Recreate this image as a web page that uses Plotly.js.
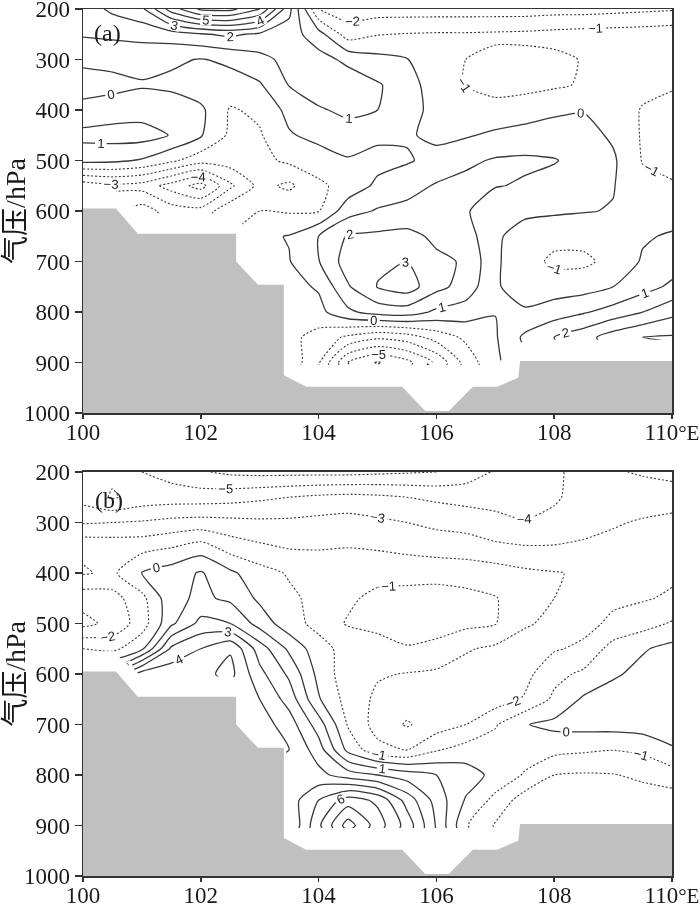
<!DOCTYPE html>
<html><head><meta charset="utf-8">
<script src="https://cdn.plot.ly/plotly-3.0.1.min.js"></script>
<style>body{margin:0;background:#fff} #chart{filter:grayscale(1)}</style></head>
<body><div id="chart" style="width:700px;height:907px"></div>
<script>
const lon = [100,100.5,101,101.5,102,102.5,103,103.5,104,104.5,105,105.5,106,106.5,107,107.5,108,108.5,109,109.5,110];
const pres = [200,250,300,350,400,450,500,550,600,650,700,750,800,850,900,950,1000];
const N = null;
// panel (a) values, rows = pressure levels, columns = longitudes
const zA = [
 [1.5,2.2,2.8,5.5,7.2,7.3,6.0,2.3,-2.0,-2.5,-2.5,-2.5,-2.5,-2.5,-2.5,-2.5,-2.4,-2.4,-2.3,-2.2,-2.1],
 [1.1,1.2,1.3,1.5,1.9,2.2,1.8,1.5,0.4,-1.5,-1.05,-0.95,-0.9,-0.9,-0.85,-0.8,-0.7,-0.6,-0.55,-0.5,-0.4],
 [0.2,0.3,0.4,0.15,-0.05,0.2,0.7,1.3,1.4,0.75,0.3,0.05,-0.8,-1.0,-1.2,-1.25,-1.2,-0.95,-0.7,-0.6,-0.6],
 [-0.4,-0.3,-0.1,-0.2,-0.6,-0.4,-0.1,1.05,1.5,1.6,1.1,0.5,-0.6,-1.05,-1.3,-1.3,-1.15,-0.9,-0.7,-0.8,-0.9],
 [0.3,0.5,0.6,0.5,0.2,-1.1,-0.8,0.3,0.9,1.2,1.0,0.5,-0.4,-0.6,-0.7,-0.5,-0.2,-0.05,-0.6,-1.05,-1.3],
 [1.3,1.4,1.4,0.95,0.1,-1.2,-1.1,-0.1,0.3,0.6,0.2,0.1,-0.2,-0.1,0.2,0.4,0.5,0.35,-0.15,-1.1,-1.4],
 [0.3,0.2,-0.1,-0.8,-1.6,-1.5,-1.3,-0.8,-0.5,-0.1,-0.3,-0.1,0.3,0.8,1.1,1.15,1.05,0.7,0.15,-1.05,-1.3],
 [-3.6,-3.2,-3.4,-4.4,-5.4,-3.2,-1.7,-2.2,-1.2,-0.6,0.2,0.6,1.1,1.3,1.05,0.9,0.7,0.45,0.05,-0.7,-0.9],
 [N,N,-1.5,-2.5,-2.6,-1.3,-1.0,-1.1,-1.05,0.6,1.1,1.3,1.2,1.1,0.4,0.2,0.15,0.05,-0.05,-0.3,-0.4],
 [N,N,N,N,N,N,-0.2,0.05,1.0,2.1,2.2,2.3,1.8,1.5,0.15,-0.4,-0.7,-0.7,-0.5,-0.1,0.1],
 [N,N,N,N,N,N,-0.1,-0.05,0.95,2.5,2.8,3.0,2.2,1.9,0.15,-0.6,-1.2,-1.2,-0.7,0.1,0.5],
 [N,N,N,N,N,N,N,-0.3,0.1,1.9,3.05,3.5,2.3,1.6,0.1,-0.4,-0.5,-0.4,0.0,0.6,1.2],
 [N,N,N,N,N,N,N,-0.6,-0.3,0.8,1.4,1.5,0.8,0.5,0.02,0.1,0.5,0.9,1.4,2.0,2.7],
 [N,N,N,N,N,N,N,-0.7,-1.4,-2.2,-2.8,-2.5,-1.6,-0.8,-0.1,1.2,2.0,2.6,3.5,4.0,4.1],
 [N,N,N,N,N,N,N,-0.3,-1.9,-5.0,-6.1,-5.3,-3.8,-1.6,-0.2,N,N,N,N,N,N],
 [N,N,N,N,N,N,N,N,N,N,N,N,N,N,N,N,N,N,N,N,N],
 [N,N,N,N,N,N,N,N,N,N,N,N,N,N,N,N,N,N,N,N,N]
];
// panel (b) values
const zB = [
 [-4.6,-4.8,-5.0,-5.4,-5.9,-6.2,-6.3,-6.3,-6.3,-6.3,-6.2,-6.1,-6.0,-5.5,-4.9,-4.5,-4.1,-3.8,-3.9,-4.1,-4.3],
 [-4.4,-5.1,-4.6,-4.5,-4.5,-4.4,-4.2,-4.0,-3.8,-3.7,-3.8,-4.0,-4.2,-4.4,-4.5,-4.4,-4.1,-3.7,-3.5,-3.5,-3.5],
 [-3.1,-3.0,-2.9,-2.7,-2.6,-2.7,-2.8,-2.8,-2.7,-2.6,-2.8,-3.0,-3.2,-3.3,-3.6,-3.95,-3.8,-3.4,-3.1,-2.9,-2.7],
 [-1.2,-1.3,-1.3,-1.0,-0.5,-1.4,-1.8,-2.05,-2.05,-2.0,-2.1,-2.3,-2.5,-2.6,-2.8,-2.9,-2.9,-2.8,-2.7,-2.55,-2.5],
 [-0.9,-1.2,0.05,0.5,1.1,0.2,-0.6,-1.1,-1.5,-1.5,-1.2,-1.2,-1.2,-1.3,-1.5,-1.8,-1.95,-2.1,-2.3,-2.3,-2.2],
 [-2.6,-2.4,-1.3,0.7,1.2,0.8,-0.2,-0.8,-1.3,-1.1,-0.85,-0.8,-0.75,-0.8,-0.95,-1.5,-2.0,-2.3,-2.2,-2.1,-1.85],
 [-3.3,-2.7,-1.5,0.8,2.3,2.0,0.6,-0.6,-1.3,-0.95,-0.8,-0.7,-0.7,-0.75,-0.95,-1.9,-2.2,-2.3,-1.8,-1.4,-0.9],
 [-1.0,-1.3,-0.2,3.2,4.0,4.9,2.5,0.8,-0.6,-1.4,-1.3,-1.05,-1.2,-1.9,-2.2,-2.4,-2.1,-1.8,-0.6,-0.1,0.3],
 [N,N,4.5,4.6,4.7,5.3,3.3,1.8,-0.3,-1.6,-1.9,-2.05,-2.2,-2.4,-2.5,-2.3,-1.3,-0.8,-0.15,0.3,0.6],
 [N,N,N,N,N,N,4.0,2.6,0.1,-1.4,-2.2,-2.5,-2.6,-2.6,-2.5,-1.9,-0.8,0.15,0.5,0.6,0.7],
 [N,N,N,N,N,N,4.5,3.5,1.5,-1.1,-2.4,-3.1,-2.5,-2.0,-1.1,-0.05,0.25,0.35,0.4,0.5,0.5],
 [N,N,N,N,N,N,N,4.0,2.5,-0.3,-1.7,-2.05,-1.1,-0.6,-0.5,-0.5,-0.7,-0.85,-0.98,-0.8,-0.1],
 [N,N,N,N,N,N,N,3.8,3.3,2.5,2.0,1.5,1.0,0.5,-0.3,-1.1,-2.0,-2.1,-2.05,-1.8,-1.45],
 [N,N,N,N,N,N,N,3.5,5.0,6.5,5.8,3.6,1.6,-0.1,-1.3,-2.5,-2.6,-2.6,-2.5,-2.5,-2.5],
 [N,N,N,N,N,N,N,3.0,5.8,8.5,6.5,4.6,1.9,-0.9,-2.1,N,N,N,N,N,N],
 [N,N,N,N,N,N,N,N,N,N,N,N,N,N,N,N,N,N,N,N,N],
 [N,N,N,N,N,N,N,N,N,N,N,N,N,N,N,N,N,N,N,N,N]
];
// terrain (surface pressure) outline
const groundLon = [100,100.56,100.93,102.6,102.6,102.97,103.41,103.41,103.79,105.42,105.81,106.21,106.62,107.03,107.39,107.42,110,110,100];
const groundP   = [595,595,645,645,700,746,746,925,948,948,996,996,948,948,930,897,897,1000,1000];
const xTicks = [100,102,104,106,108,110];
const xTickText = ['100','102','104','106','108','110<span style="font-size:21px">°E</span>'];
const yTicks = [200,300,400,500,600,700,800,900,1000];
const panelLabels = ['(a)','(b)'];

const ink = '#383838';
const lblFont = {family:'Liberation Sans, Arial, sans-serif', size:13, color:'#222222'};

function panelTraces(z, xa, ya){
  const base = {type:'contour', x:lon, y:pres, z:z, xaxis:xa, yaxis:ya, showscale:false, hoverinfo:'skip', autocontour:false};
  return [
    Object.assign({}, base, {contours:{coloring:'none', start:0, end:10, size:1, showlabels:true, labelfont:lblFont},
      line:{color:ink, width:1.3, smoothing:0.6}}),
    Object.assign({}, base, {contours:{coloring:'none', start:-8, end:-1, size:1, showlabels:true, labelfont:lblFont},
      line:{color:ink, width:1.1, dash:'2px,2px', smoothing:0.6}}),
    {type:'scatter', mode:'lines', x:groundLon, y:groundP, fill:'toself', fillcolor:'#c0c0c0',
      line:{width:0, color:'#c0c0c0'}, hoverinfo:'skip', xaxis:xa, yaxis:ya, showlegend:false}
  ];
}

const data = [].concat(panelTraces(zA,'x','y'), panelTraces(zB,'x2','y2'));

const tickFont = {family:'Liberation Serif, Times New Roman, serif', size:23, color:'#1a1a1a'};
function xAxis(anchor){
  return {anchor:anchor, domain:[0,1], range:[100,110], tickvals:xTicks, ticktext:xTickText,
    ticks:'outside', ticklen:4, tickwidth:1.5, tickcolor:'#333', showline:true, linecolor:'#333', linewidth:1.5,
    mirror:true, showgrid:false, zeroline:false, tickfont:tickFont, ticklabeloverflow:'allow', ticklabelstandoff:-6};
}
function yAxis(anchor, dom){
  return {anchor:anchor, domain:dom, range:[1000,200], tickvals:yTicks,
    ticks:'outside', ticklen:7, tickwidth:1.5, tickcolor:'#333', showline:true, linecolor:'#333', linewidth:1.5,
    mirror:true, showgrid:false, zeroline:false, tickfont:tickFont, ticklabeloverflow:'allow',
    title:{text:'气压/hPa', font:{family:'Liberation Serif, Noto Sans CJK SC, serif', size:28, color:'#1a1a1a'}, standoff:0}};
}

const layout = {
  width:700, height:907, margin:{l:83, r:28, t:9, b:31},
  paper_bgcolor:'#fff', plot_bgcolor:'#fff', showlegend:false,
  xaxis:xAxis('y'), yaxis:yAxis('x',[0.534,1]),
  xaxis2:xAxis('y2'), yaxis2:yAxis('x2',[0,0.466]),
  annotations:[
    {text:panelLabels[0], xref:'x domain', yref:'y domain', x:0.015, y:0.94, xanchor:'left', yanchor:'middle', showarrow:false,
      font:{family:'Liberation Serif, serif', size:24, color:'#1a1a1a'}},
    {text:panelLabels[1], xref:'x2 domain', yref:'y2 domain', x:0.017, y:0.93, xanchor:'left', yanchor:'middle', showarrow:false,
      font:{family:'Liberation Serif, serif', size:24, color:'#1a1a1a'}}
  ]
};
Plotly.newPlot('chart', data, layout, {displayModeBar:false, staticPlot:true});
</script></body></html>
